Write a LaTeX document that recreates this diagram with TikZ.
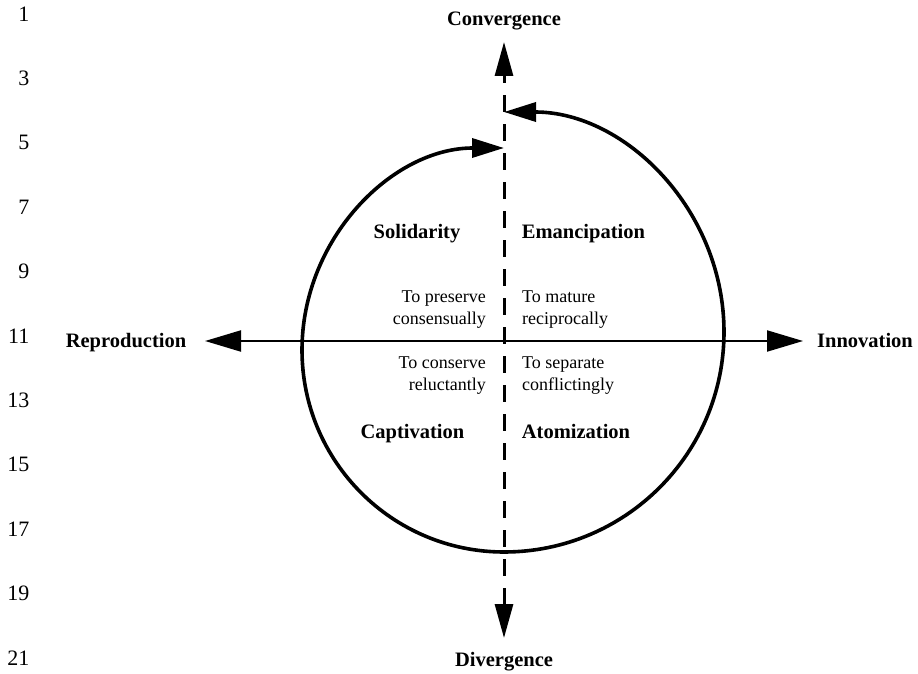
\documentclass[tikz,border=0pt]{standalone}
\usepackage{fontspec}
\setmainfont{Liberation Serif}
\usetikzlibrary{arrows.meta, positioning}

\begin{document}
\begin{tikzpicture}[
    x=1pt, y=1pt,
    axislabel/.style={font=\fontsize{20.5}{24}\selectfont\bfseries, inner sep=0, anchor=base},
    quadrant/.style={font=\fontsize{20.5}{24}\selectfont\bfseries, inner sep=0, anchor=base},
    phrase/.style={font=\fontsize{18}{22}\selectfont, inner sep=0},
    lineno/.style={font=\fontsize{22}{24}\selectfont, anchor=east, inner sep=0},
    cycle/.style={line width=3.6pt, -{Triangle[length=32pt, width=19pt]}}
]
\useasboundingbox (0,0) rectangle (918,673);

% Line numbers
\foreach \n [count=\k from 0] in {1,3,...,21}
    \node[lineno] (num\n) at (29.5, {659-64.4*\k}) {\n};

% Centre of the axes
\coordinate (o) at (504,332);
\coordinate (bot) at (504,121);

% Axis labels
\node[axislabel] (conv) at (504,647.4) {Convergence};
\node[axislabel] (div) at (504,6.4) {Divergence};
\node[axislabel] (repro) at (126,326) {Reproduction};
\node[axislabel] (innov) at (865,326) {Innovation};

% Axes
\draw[line width=2pt, {Triangle[length=36pt, width=21pt]}-{Triangle[length=36pt, width=21pt]}]
    (205,332) coordinate (hl) -- (803,332) coordinate (hr);
\draw[line width=3pt, dash pattern=on 17pt off 12pt, {Triangle[length=34pt, width=18pt]}-{Triangle[length=34pt, width=18pt]}]
    (504,35) coordinate (vb) -- (504,631) coordinate (vt);

% Cycle
\draw[cycle] (bot) arc[start angle=270, end angle=90, radius=202];
\draw[cycle] (bot) arc[start angle=-90, end angle=90, radius=220];

% Quadrants
\node[quadrant] (sol) at (417,434.4) {Solidarity};
\node[quadrant] (eman) at (583.5,434.4) {Emancipation};
\node[quadrant] (capt) at (412.5,234.4) {Captivation};
\node[quadrant] (atom) at (576,234.4) {Atomization};

% Strategies
\node[phrase, align=right, above left=12pt and 18pt of o] (pres) {To preserve\\consensually};
\node[phrase, align=left, above right=12pt and 18pt of o] (matu) {To mature\\reciprocally};
\node[phrase, align=right, below left=16pt and 18pt of o] (cons) {To conserve\\reluctantly};
\node[phrase, align=left, below right=16pt and 18pt of o] (sepa) {To separate\\conflictingly};

\end{tikzpicture}
\end{document}
